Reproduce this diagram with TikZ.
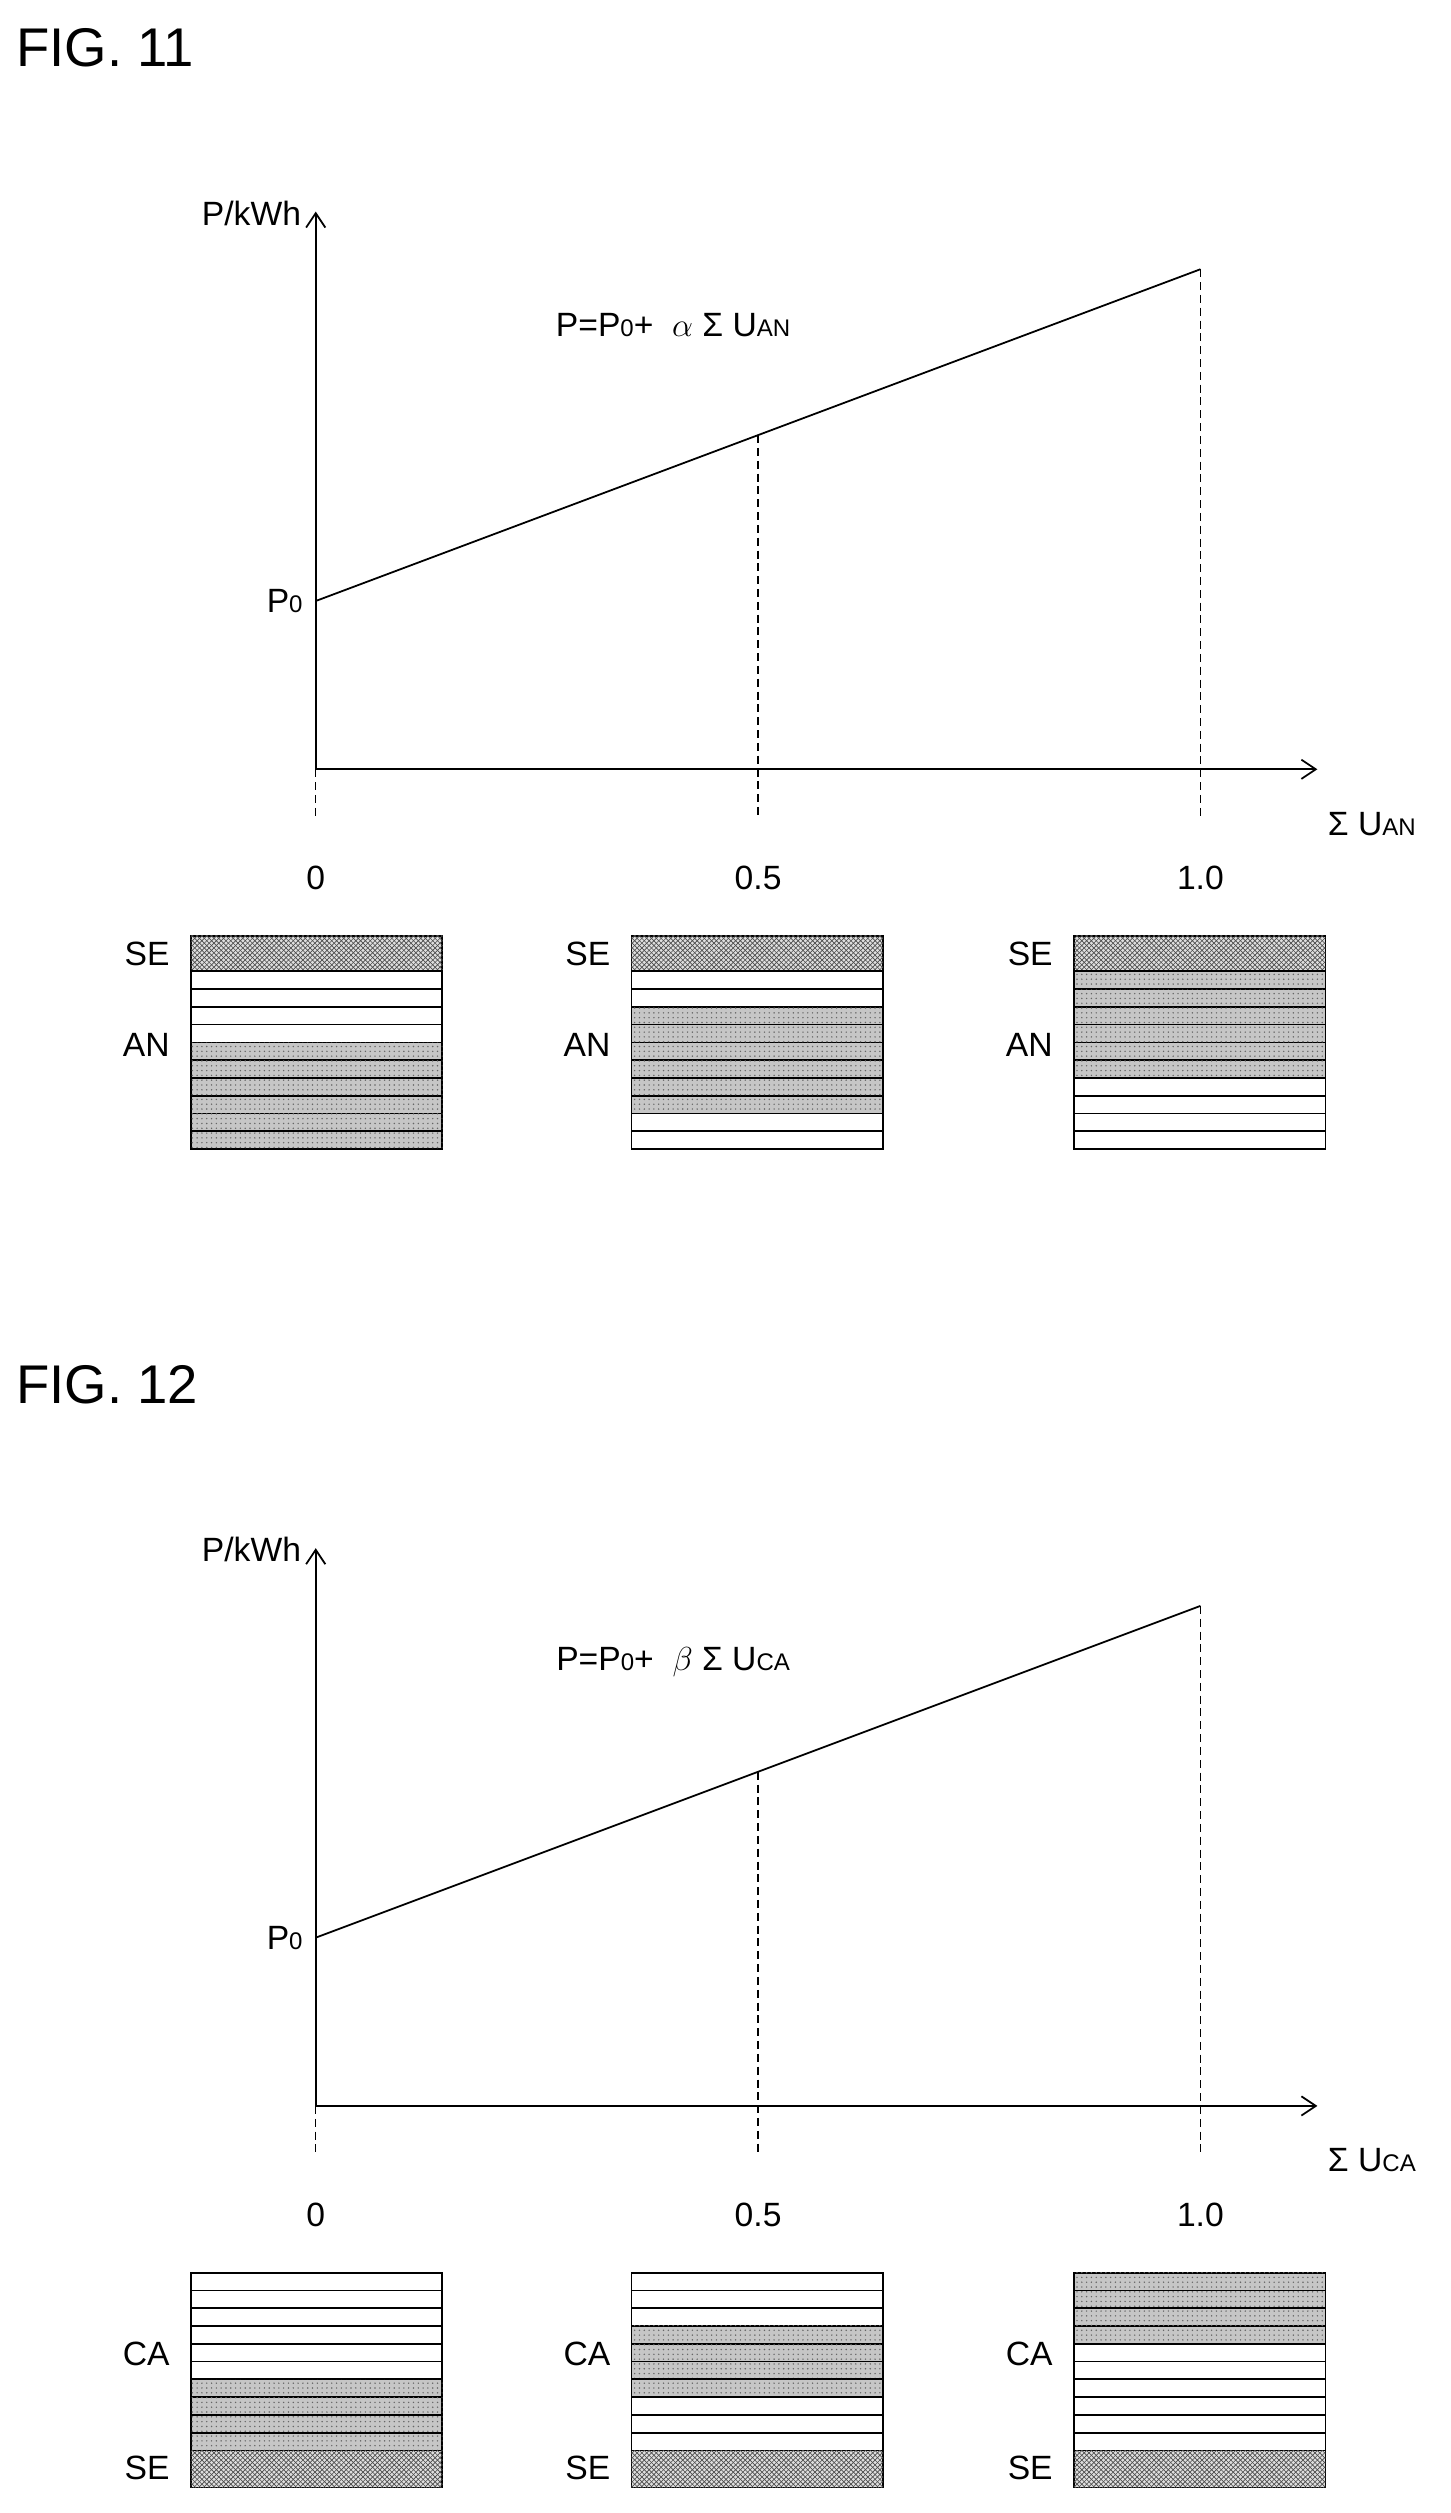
\documentclass[tikz,border=0pt]{standalone}
\usepackage{fontspec}
\setmainfont{Liberation Sans}
\usetikzlibrary{patterns,arrows.meta}
\newcommand\lowsub[1]{{\fontsize{15}{15}\selectfont #1}}
\tikzset{
  x=1pt,y=-1pt,
  axis/.style={line width=1.1pt,-{Straight Barb[length=9pt,width=12pt]}},
  guide/.style={line width=0.9pt,dashed,dash pattern=on 5pt off 3pt},
  lbl/.style={font=\fontsize{21}{21}\selectfont,inner sep=1pt},
  figlbl/.style={font=\fontsize{34}{34}\selectfont,anchor=west,inner sep=0pt},
  rw/.style={draw=black,line width=1.1pt,fill=white},
  rd/.style={draw=black,line width=1.1pt,fill=gray!45,postaction={pattern=dots,pattern color=black!60}},
  rs/.style={draw=black,line width=1.1pt,fill=gray!25,postaction={pattern=north east lines,pattern color=black!70},postaction={pattern=north west lines,pattern color=black!70}},
}
% #1 x, #2 top of rows, #3 list macro
\newcommand\rowstack[3]{\foreach \t [count=\i from 0] in #3 {\path[r\t] (#1,#2+\i*11.1) rectangle ++(157,11.1);}}
\begin{document}
\begin{tikzpicture}
\useasboundingbox (0,0) rectangle (905,1568);
% ---------- FIG 11 ----------
\node[figlbl] (f11) at (10,30) {FIG. 11};
\coordinate (o1) at (197,480);
\coordinate (yt1) at (197,132);
\coordinate (xt1) at (822,480);
\draw[axis] (o1) -- (yt1);
\draw[axis] (o1) -- (xt1);
\coordinate (a1) at (197,375);
\coordinate (c1) at (749,168);
\draw[line width=1.1pt] (a1) -- (c1);
\draw[guide] (o1) -- (197,510);
\draw[guide] (473,271.5) -- (473,510);
\draw[guide] (c1) -- (749,510);
\node[lbl,anchor=east] (p01) at (190,375) {P\lowsub{0}};
\node[lbl,anchor=east] (pk1) at (189,133) {P/kWh};
\node[lbl] (eq1) at (420,203) {P=P\lowsub{0}+ \;$\alpha$ Σ U\lowsub{AN}};
\node[lbl] (su1) at (856,514) {Σ U\lowsub{AN}};
\node[lbl] (z1) at (197,548) {0};
\node[lbl] (h1) at (473,548) {0.5};
\node[lbl] (one1) at (749,548) {1.0};
\foreach \bx/\list in {119/{w,w,w,w,d,d,d,d,d,d},394/{w,w,d,d,d,d,d,d,w,w},670/{d,d,d,d,d,d,w,w,w,w}}{
  \path[rs] (\bx,584) rectangle ++(157,22);
  \rowstack{\bx}{606}{\list}
  \node[lbl,anchor=east] at (\bx-12,595) {SE};
  \node[lbl,anchor=east] at (\bx-12,652) {AN};
}
% ---------- FIG 12 ----------
\begin{scope}[shift={(0,834)}]
\node[figlbl] (f12) at (10,30) {FIG. 12};
\coordinate (o2) at (197,480);
\coordinate (yt2) at (197,132);
\coordinate (xt2) at (822,480);
\draw[axis] (o2) -- (yt2);
\draw[axis] (o2) -- (xt2);
\coordinate (a2) at (197,375);
\coordinate (c2) at (749,168);
\draw[line width=1.1pt] (a2) -- (c2);
\draw[guide] (o2) -- (197,510);
\draw[guide] (473,271.5) -- (473,510);
\draw[guide] (c2) -- (749,510);
\node[lbl,anchor=east] (p02) at (190,375) {P\lowsub{0}};
\node[lbl,anchor=east] (pk2) at (189,133) {P/kWh};
\node[lbl] (eq2) at (420,203) {P=P\lowsub{0}+ \;$\beta$ Σ U\lowsub{CA}};
\node[lbl] (su2) at (856,514) {Σ U\lowsub{CA}};
\node[lbl] (z2) at (197,548) {0};
\node[lbl] (h2) at (473,548) {0.5};
\node[lbl] (one2) at (749,548) {1.0};
\foreach \bx/\list in {119/{w,w,w,w,w,w,d,d,d,d},394/{w,w,w,d,d,d,d,w,w,w},670/{d,d,d,d,w,w,w,w,w,w}}{
  \rowstack{\bx}{584}{\list}
  \path[rs] (\bx,695) rectangle ++(157,23);
  \node[lbl,anchor=east] at (\bx-12,635) {CA};
  \node[lbl,anchor=east] at (\bx-12,706) {SE};
}
\end{scope}
\end{tikzpicture}
\end{document}
